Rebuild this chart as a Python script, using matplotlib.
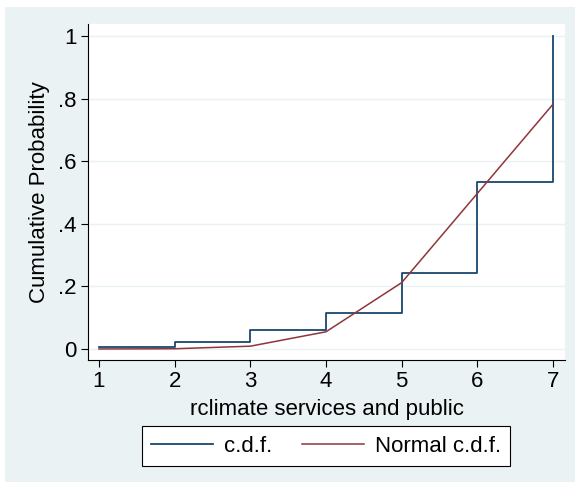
import matplotlib
matplotlib.use("Agg")
import matplotlib.pyplot as plt
from matplotlib.patches import Rectangle

plt.rcParams['font.family'] = ['Liberation Sans', 'DejaVu Sans']

x_vals = [1, 2, 3, 4, 5, 6, 7]
cdf_vals = [0.005, 0.021, 0.062, 0.116, 0.243, 0.533, 1.0]
normal_vals = [0.0001, 0.0008, 0.009, 0.055, 0.212, 0.497, 0.782]
yticks = [0, 0.2, 0.4, 0.6, 0.8, 1.0]
yticklabels = ["0", ".2", ".4", ".6", ".8", "1"]
xticks = [1, 2, 3, 4, 5, 6, 7]

W, H = 575, 483
FS = 16
fig = plt.figure(figsize=(W/100, H/100), dpi=100)
fig.patch.set_facecolor('white')
fig.patches.append(Rectangle((5/W, 1-482/H), (575-5)/W, (482-7)/H,
                             transform=fig.transFigure, facecolor='#EAF2F3',
                             edgecolor='none', zorder=-10))

ax = fig.add_axes([88/W, 1-360/H, (565-88)/W, (360-24)/H])
ax.set_facecolor('white')
ax.plot(x_vals, cdf_vals, drawstyle='steps-post', color='#1A476F', lw=1.3, label='c.d.f.')
ax.plot(x_vals, normal_vals, color='#90353B', lw=1.1, label='Normal c.d.f.')

ax.set_xlim(1 - 11/75.67, 7 + 12/75.67)
ax.set_ylim(-11/313, 1 + 12/313)
ax.set_xticks(xticks)
ax.set_xticklabels([str(v) for v in xticks])
ax.set_yticks(yticks)
ax.set_yticklabels(yticklabels)
ax.tick_params(axis='both', labelsize=FS, length=5, width=0.8, direction='out', color='black', pad=3)
ax.yaxis.grid(True, color='#EAF2F3', lw=1)
ax.set_axisbelow(True)
for s in ['top', 'right']:
    ax.spines[s].set_visible(False)
for s in ['left', 'bottom']:
    ax.spines[s].set_color('black')
    ax.spines[s].set_linewidth(0.8)

ax.set_xlabel('rclimate services and public', fontsize=FS, labelpad=5)
ax.set_ylabel('Cumulative Probability', fontsize=FS, labelpad=6)

leg = fig.legend(loc='center', bbox_to_anchor=((139+513)/2/W, 1-446/H), ncol=2,
                 fontsize=FS, frameon=True, fancybox=False, edgecolor='black',
                 facecolor='white', framealpha=1,
                 handlelength=2.8, handletextpad=0.5, columnspacing=1.3,
                 borderpad=0.42)
leg.get_frame().set_linewidth(0.8)

fig.savefig('out.png', dpi=100, facecolor=fig.get_facecolor())
